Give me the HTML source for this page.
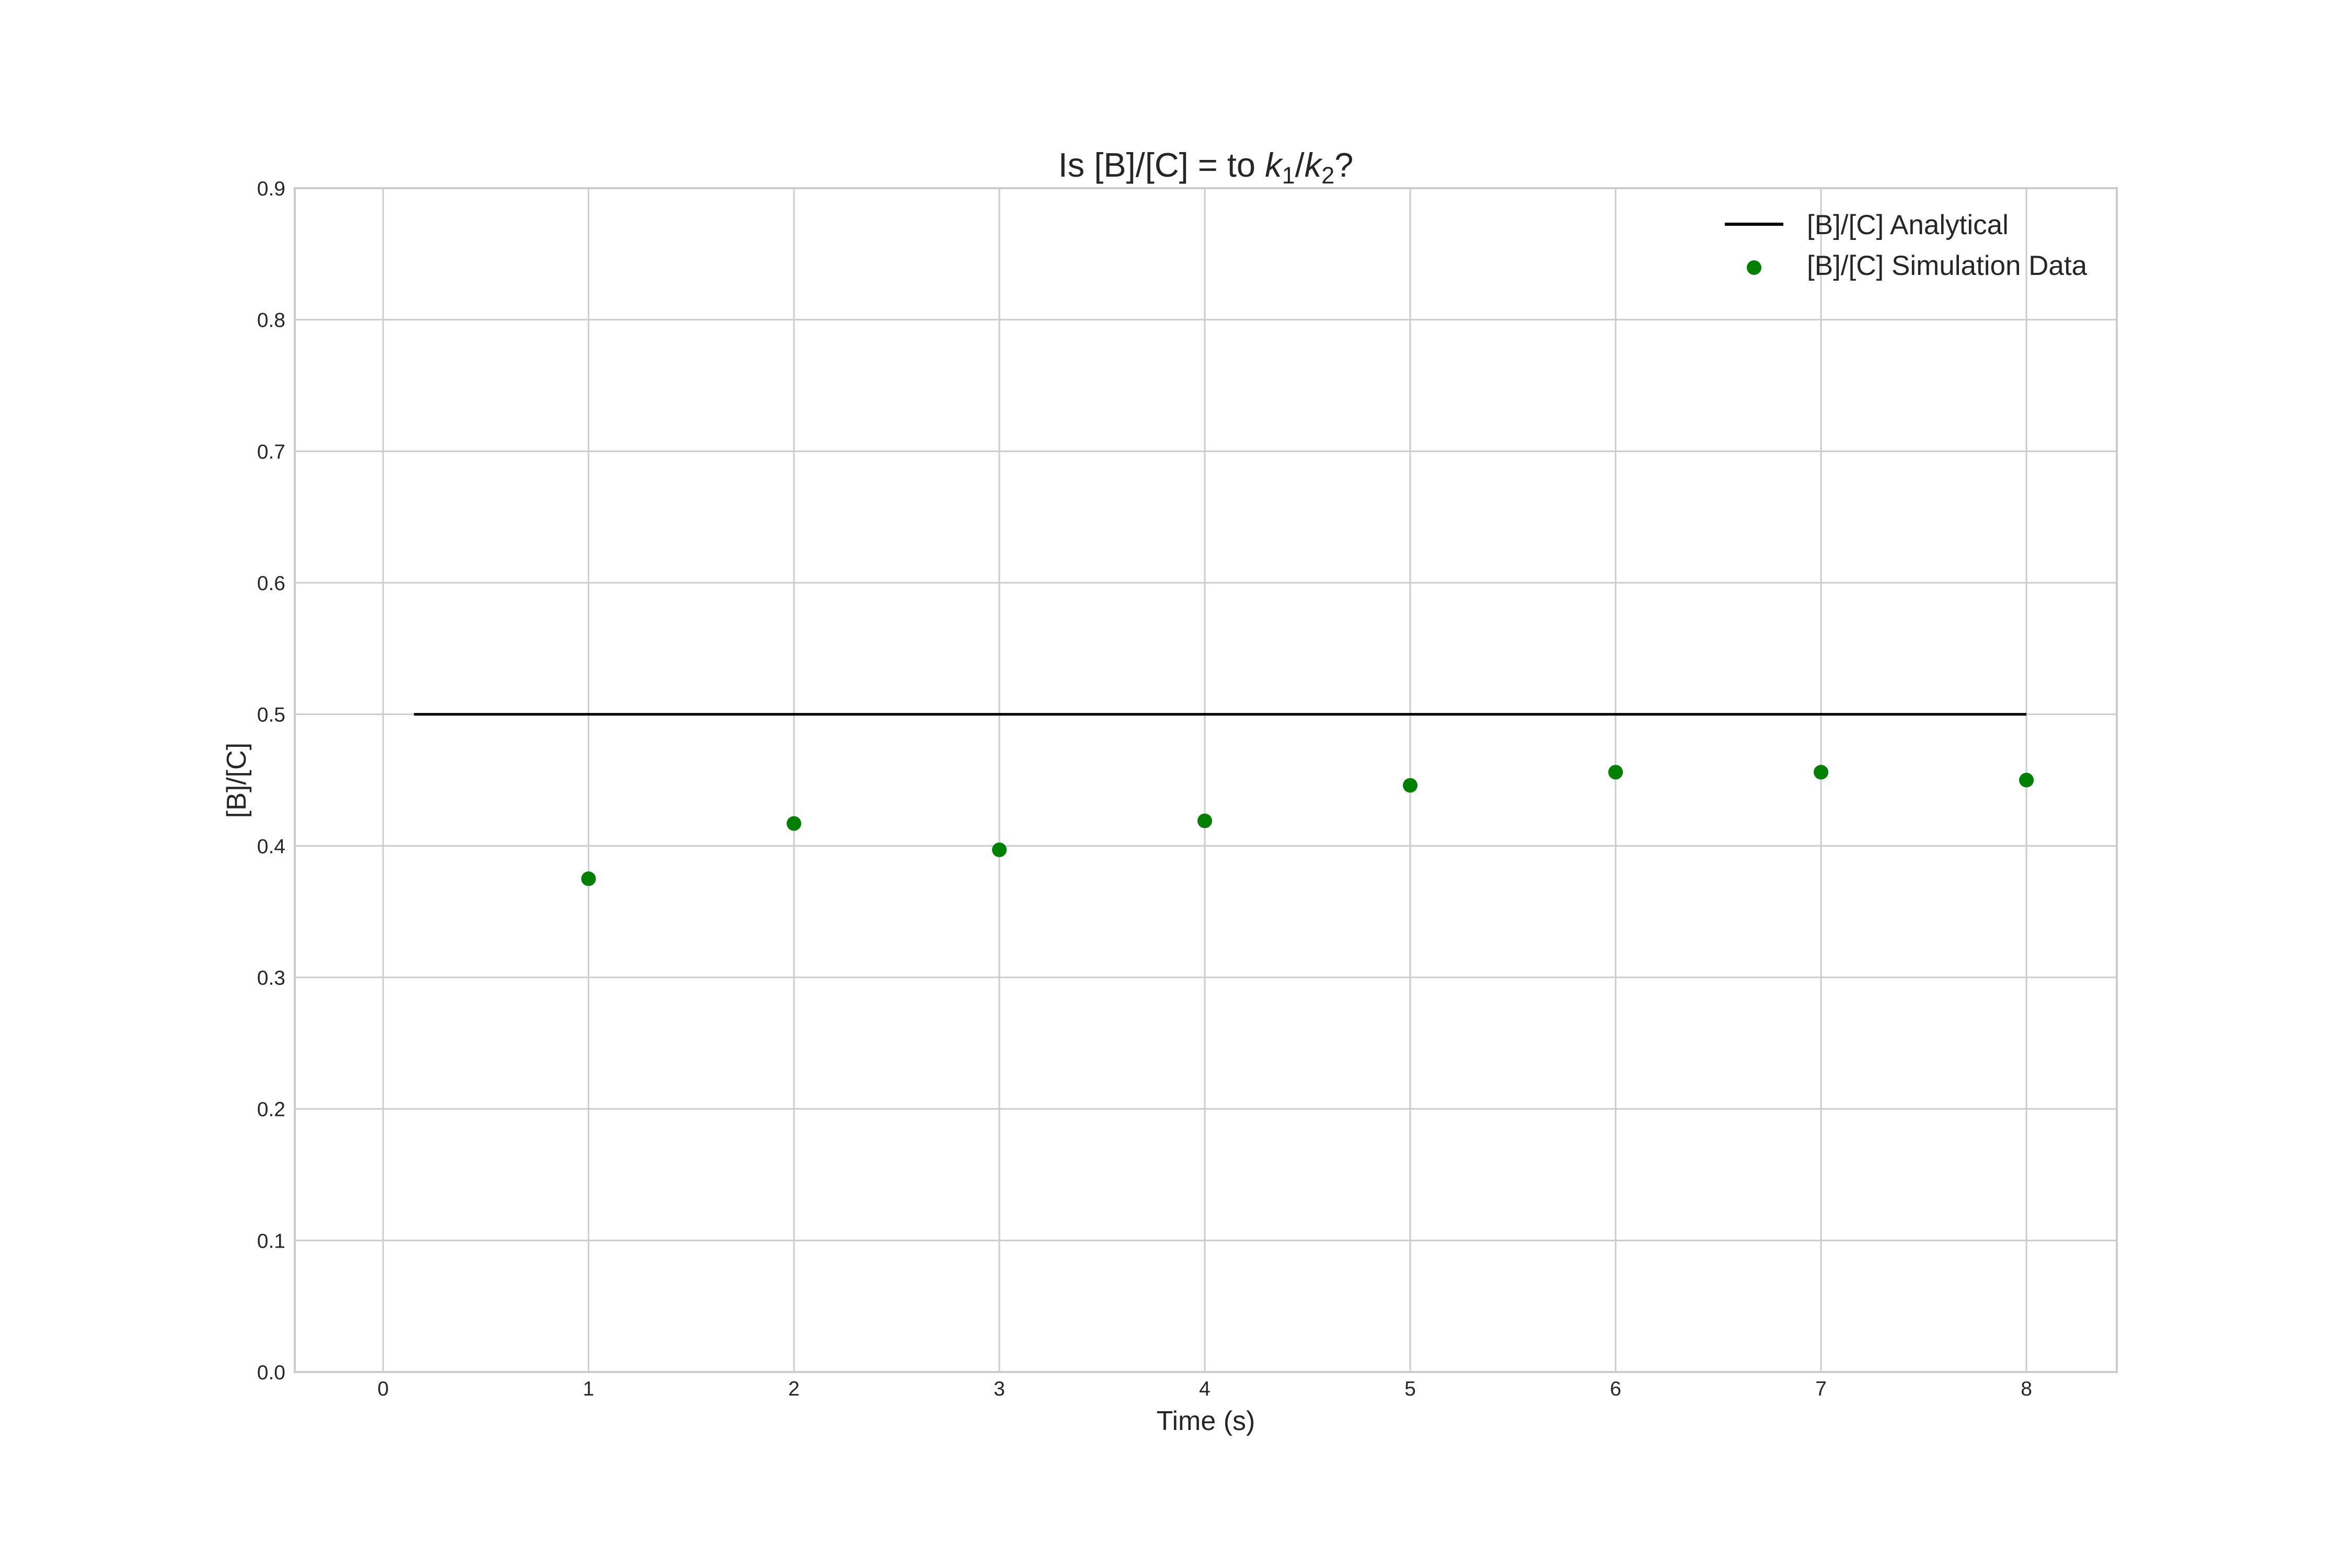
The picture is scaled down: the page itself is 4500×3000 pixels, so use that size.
<!DOCTYPE html>
<html><head><meta charset="utf-8"><style>
html,body{margin:0;padding:0;background:#fff;}
svg{display:block;font-family:"Liberation Sans",Arial,sans-serif;}
</style></head><body>
<svg id="chart" width="4500" height="3000" viewBox="0 0 4500 3000">
<rect width="4500" height="3000" fill="#fff"/>
<g id="grid"></g>
<g id="series"></g>
<g id="ticks"></g>
<text x="2307" y="338" font-size="65" text-anchor="middle" fill="#262626">Is [B]/[C] = to <tspan font-style="italic">k</tspan><tspan font-size="45" dy="13">1</tspan><tspan dy="-13">/</tspan><tspan font-style="italic">k</tspan><tspan font-size="45" dy="13">2</tspan><tspan dy="-13">?</tspan></text>
<text x="2307" y="2736" font-size="52" text-anchor="middle" fill="#262626">Time (s)</text>
<text x="470" y="1493" font-size="52" text-anchor="middle" fill="#262626" transform="rotate(-90 470 1493)">[B]/[C]</text>
<g>
<line x1="3300" y1="429" x2="3412" y2="429" stroke="#000" stroke-width="6"/>
<text x="3457" y="448" font-size="53" fill="#262626">[B]/[C] Analytical</text>
<circle cx="3356" cy="512" r="14" fill="#008000"/>
<text x="3457" y="526" font-size="53" fill="#262626">[B]/[C] Simulation Data</text>
</g>
</svg>
<script>
const simTimes = [1, 2, 3, 4, 5, 6, 7, 8];
const simValues = [0.375, 0.417, 0.397, 0.419, 0.446, 0.456, 0.456, 0.450];
const analyticalTimes = [0.15, 8];
const analyticalValues = [0.5, 0.5];
const xTicks = [0, 1, 2, 3, 4, 5, 6, 7, 8];
const yTicks = [0.0, 0.1, 0.2, 0.3, 0.4, 0.5, 0.6, 0.7, 0.8, 0.9];

const L = 564, R = 4050, T = 360, B = 2625;
const xMin = -0.43, xMax = 8.44, yMin = 0, yMax = 0.9;
const sx = v => L + (v - xMin) / (xMax - xMin) * (R - L);
const sy = v => B - (v - yMin) / (yMax - yMin) * (B - T);
const NS = 'http://www.w3.org/2000/svg';
function mk(tag, attrs, parent) {
  const e = document.createElementNS(NS, tag);
  for (const k in attrs) e.setAttribute(k, attrs[k]);
  parent.appendChild(e);
  return e;
}
const grid = document.getElementById('grid');
const ticks = document.getElementById('ticks');
const series = document.getElementById('series');

xTicks.forEach(t => {
  const g = mk('line', {x1: sx(t), x2: sx(t), y1: T, y2: B, stroke: '#cccccc', 'stroke-width': 3}, grid);
  
  
  const lb = mk('text', {x: sx(t), y: 2670, 'font-size': 39, 'text-anchor': 'middle', fill: '#262626'}, ticks);
  lb.textContent = String(t);
  
  
});
yTicks.forEach(t => {
  const g = mk('line', {x1: L, x2: R, y1: sy(t), y2: sy(t), stroke: '#cccccc', 'stroke-width': 3}, grid);
  
  
  const lb = mk('text', {x: 546, y: sy(t) + 14, 'font-size': 39, 'text-anchor': 'end', fill: '#262626'}, ticks);
  lb.textContent = t.toFixed(1);
  
  
});
const frame = mk('rect', {x: L, y: T, width: R - L, height: B - T, fill: 'none', stroke: '#cccccc', 'stroke-width': 4}, grid);



const pts = analyticalTimes.map((t, i) => sx(t) + ',' + sy(analyticalValues[i])).join(' ');
const line = mk('polyline', {points: pts, fill: 'none', stroke: '#000', 'stroke-width': 5}, series);



simTimes.forEach((t, i) => {
  const c = mk('circle', {cx: sx(t), cy: sy(simValues[i]), r: 14, fill: '#008000'}, series);
  
  
});
</script>
</body></html>
